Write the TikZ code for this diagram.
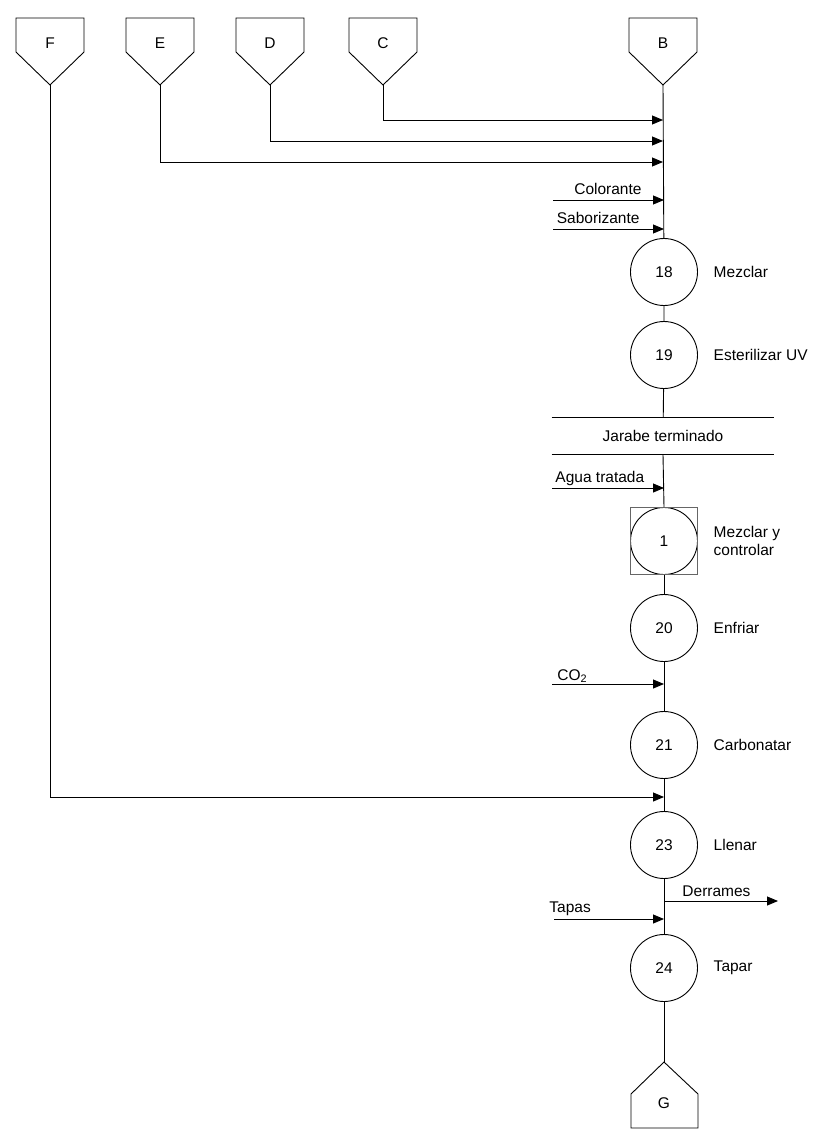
\documentclass[tikz,border=0pt]{standalone}
\usepackage{fontspec}
\setmainfont{Liberation Sans}
\usetikzlibrary{arrows.meta,positioning}

\begin{document}
\begin{tikzpicture}[x=1pt,y=-1pt,line width=0.9pt,
	every node/.style={font=\fontsize{15.5}{18}\selectfont},
	proceso/.style={draw,circle,minimum size=67pt,inner sep=0pt},
	flecha/.style={-{Triangle[length=11pt,width=9pt]}},
	nota/.style={inner sep=0pt}]
	\useasboundingbox (0,0) rectangle (816,1141);
	
	% materias primas
	\foreach \s/\x in {F/50,E/160,D/270,C/383,B/663}{
		\node (\s) at (\x,43) {\s};
		\draw (\x-34,18) -- (\x+34,18) -- (\x+34,52) -- (\x,85) -- (\x-34,52) -- cycle;
		\coordinate (\s-p) at (\x,85);
	}
	
	% operaciones
	\node[proceso] (p18) at (664,272) {18};
	\node[proceso] (p19) at (664,355) {19};
	\node[minimum width=222pt,minimum height=36pt,inner sep=0pt] (jt) at (663,436) {Jarabe terminado};
	\node[proceso] (p1) at (664,541) {1};
	\node[draw=black!60,minimum size=67pt,inner sep=0pt] (c1) at (p1) {};
	\node[proceso] (p20) at (664,628) {20};
	\node[proceso] (p21) at (664,745) {21};
	\node[proceso] (p23) at (664,845) {23};
	\node[proceso] (p24) at (664,968) {24};
	
	\node[right=12pt of p18] (t18) {Mezclar};
	\node[right=12pt of p19] (t19) {Esterilizar UV};
	\node[right=12pt of c1,align=left] (t1) {Mezclar y\\controlar};
	\node[right=12pt of p20] (t20) {Enfriar};
	\node[right=12pt of p21] (t21) {Carbonatar};
	\node[right=12pt of p23] (t23) {Llenar};
	\node[right=12pt of p24] (t24) {Tapar};
	
	% producto
	\node (G) at (664,1103) {G};
	\draw (631,1128) -- (698,1128) -- (698,1094) -- (664,1062) -- (631,1094) -- cycle;
	\coordinate (G-p) at (664,1062);
	
	\draw (jt.north west) -- (jt.north east) (jt.south west) -- (jt.south east);
	
	% linea principal
	\draw (B-p) -- (p18) -- (p19) -- (jt);
	\draw (jt.south) -- (c1.north);
	\draw (c1) -- (p20) -- (p21) -- (p23) -- (p24) -- (G-p);
	
	\coordinate (jC) at (663,120);
	\coordinate (jD) at (663,141);
	\coordinate (jE) at (663,162);
	\coordinate (jF) at (664,797);
	\draw[flecha] (C-p) |- (jC);
	\draw[flecha] (D-p) |- (jD);
	\draw[flecha] (E-p) |- (jE);
	\draw[flecha] (F-p) |- (jF);
	
	% entradas y salidas
	\coordinate (col) at (553,200);
	\coordinate (sab) at (553,229);
	\coordinate (agua) at (552,488);
	\coordinate (co2) at (552,684);
	\coordinate (tap) at (554,919);
	\coordinate (der1) at (664,901);
	\coordinate (der2) at (778,901);
	\draw[flecha] (col) -- (col -| p18);
	\draw[flecha] (sab) -- (sab -| p18);
	\draw[flecha] (agua) -- (agua -| p1);
	\draw[flecha] (co2) -- (co2 -| p21);
	\draw[flecha] (tap) -- (tap -| p24);
	\draw[flecha] (der1) -- (der2);
	
	\node[nota,anchor=base east] (tcol) at (642,194) {Colorante};
	\node[nota,anchor=base east] (tsab) at (640,223) {Saborizante};
	\node[nota,anchor=base west] (tagua) at (555,482) {Agua tratada};
	\node[nota,anchor=base west] (tco2) at (557,680) {CO\textsubscript{2}};
	\node[nota,anchor=base west] (ttap) at (549,912) {Tapas};
	\node[nota,anchor=base west] (tder) at (682,896) {Derrames};
\end{tikzpicture}
\end{document}
